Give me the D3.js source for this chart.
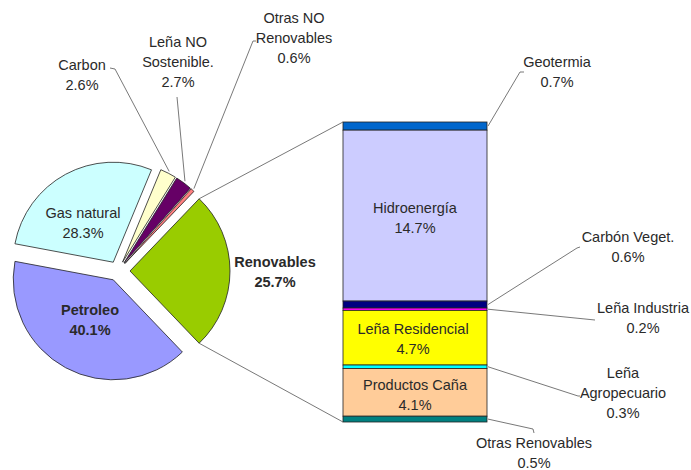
<!DOCTYPE html>
<html>
<head>
<meta charset="utf-8">
<script src="https://cdn.jsdelivr.net/npm/d3@7"></script>
<style>
  body { margin: 0; background: #fff; }
  text { font-family: "Liberation Sans", Arial, sans-serif; font-size: 14.5px; fill: #2a2a2a; }
</style>
</head>
<body>
<script>
// data: pie (first entry is the one split into the bar)
const pieLabels = ["Renovables", "Petroleo", "Gas natural", "Carbon", "Leña NO Sostenible.", "Otras NO Renovables"];
const pieValues = [25.7, 40.1, 28.3, 2.6, 2.7, 0.6];
const pieColors = ["#99cc00", "#9999ff", "#ccffff", "#ffffcc", "#660066", "#ff8080"];

// data: bar of the "Renovables" slice, top to bottom
const barLabels = ["Geotermia", "Hidroenergía", "Carbón Veget.", "Leña Industria", "Leña Residencial", "Leña Agropecuario", "Productos Caña", "Otras Renovables"];
const barValues = [0.7, 14.7, 0.6, 0.2, 4.7, 0.3, 4.1, 0.5];
const barColors = ["#0066cc", "#ccccff", "#000080", "#ff00ff", "#ffff00", "#00ffff", "#ffcc99", "#008080"];

const canvWidth = 691, canvHeight = 470;
const svg = d3.select("body").append("svg")
    .attr("width", canvWidth)
    .attr("height", canvHeight);

// pie geometry
const cx = 118, cy = 271, radius = 100, explode = 10;
const total = d3.sum(pieValues);
const start = Math.PI / 2 - Math.PI * pieValues[0] / total;
const pie = d3.pie().sort(null).startAngle(start).endAngle(start + 2 * Math.PI);
const arcs = pie(pieValues);
const arc = d3.arc().innerRadius(0).outerRadius(radius);

function offset(d, e) {
    const a = (d.startAngle + d.endAngle) / 2;
    return [e * Math.sin(a), -e * Math.cos(a)];
}
function polar(a, r, o) {
    return [cx + o[0] + r * Math.sin(a), cy + o[1] - r * Math.cos(a)];
}

const gPie = svg.append("g");
gPie.selectAll("path")
    .data(arcs)
    .enter()
    .append("path")
    .attr("d", arc)
    .attr("transform", (d, i) => {
        const o = offset(d, i === 0 ? 12 : explode);
        return "translate(" + (cx + o[0]) + "," + (cy + o[1]) + ")";
    })
    .style("fill", (d, i) => pieColors[i])
    .style("stroke", "#222")
    .style("stroke-width", 0.8);

// bar scale
const barX = 343, barW = 144;
const y = d3.scaleLinear().domain([0, d3.sum(barValues)]).range([122, 422]);
const cum = d3.cumsum(barValues);
const segs = barValues.map((v, i) => ({ v: v, y0: cum[i] - v, y1: cum[i] }));

svg.append("g").selectAll("rect")
    .data(segs)
    .enter()
    .append("rect")
    .attr("x", barX)
    .attr("y", d => y(d.y0))
    .attr("width", barW)
    .attr("height", d => y(d.y1) - y(d.y0))
    .style("fill", (d, i) => barColors[i])
    .style("stroke", "#222")
    .style("stroke-width", 0.8);

// connectors pie -> bar
const ren = arcs[0];
const oRen = offset(ren, 12);
const pTop = polar(ren.startAngle, radius, oRen);
const pBot = polar(ren.endAngle, radius, oRen);
svg.append("line").attr("x1", pTop[0]).attr("y1", pTop[1]).attr("x2", barX).attr("y2", y(0))
    .style("stroke", "#555").style("stroke-width", 0.8);
svg.append("line").attr("x1", pBot[0]).attr("y1", pBot[1]).attr("x2", barX).attr("y2", y(d3.sum(barValues)))
    .style("stroke", "#555").style("stroke-width", 0.8);

// labels
function label(x, yy, lines, bold) {
    const t = svg.append("text")
        .attr("x", x)
        .attr("y", yy)
        .style("text-anchor", "middle")
        .style("font-weight", bold ? "bold" : "normal");
    lines.forEach((s, i) => {
        t.append("tspan").attr("x", x).attr("dy", i === 0 ? 0 : 20).text(s);
    });
}
function leader(pts) {
    svg.append("path")
        .attr("d", d3.line()(pts))
        .style("fill", "none")
        .style("stroke", "#555")
        .style("stroke-width", 0.8);
}
const pct = v => v.toFixed(1) + "%";

// pie labels: position, lines, bold, leader points on the label side
const pieLayout = [
    { x: 275, y: 267, lines: ["Renovables"], bold: true },
    { x: 90, y: 315, lines: ["Petroleo"], bold: true },
    { x: 83, y: 218, lines: ["Gas natural"] },
    { x: 82, y: 70, lines: ["Carbon"], lead: [[110, 68], [115, 69]] },
    { x: 178, y: 47, lines: ["Leña NO", "Sostenible."], lead: [[177, 97]] },
    { x: 294, y: 23, lines: ["Otras NO", "Renovables"], lead: [[256, 41], [253, 41]] }
];
pieLayout.forEach((L, i) => {
    label(L.x, L.y, L.lines.concat([pct(pieValues[i])]), L.bold);
    if (L.lead) {
        const d = arcs[i];
        const a = (d.startAngle + d.endAngle) / 2;
        const p = polar(a, radius + 2, offset(d, explode));
        leader(L.lead.concat([p]));
    }
});

// bar labels
const barLayout = [
    { x: 557, y: 67, lines: ["Geotermia"], lead: [[524, 72], [520, 72]] },
    { x: 415, y: 213, lines: ["Hidroenergía"] },
    { x: 628, y: 242, lines: ["Carbón Veget."], lead: [[580, 247], [577, 248]] },
    { x: 643, y: 313, lines: ["Leña Industria"], lead: [[595, 320]] },
    { x: 413, y: 334, lines: ["Leña Residencial"] },
    { x: 623, y: 378, lines: ["Leña", "Agropecuario"], lead: [[580, 396], [578, 396]] },
    { x: 415, y: 390, lines: ["Productos Caña"] },
    { x: 534, y: 448, lines: ["Otras Renovables"], lead: [[534, 433], [533, 429]] }
];
barLayout.forEach((L, i) => {
    label(L.x, L.y, L.lines.concat([pct(barValues[i])]));
    if (L.lead) {
        const s = segs[i];
        leader(L.lead.concat([[barX + barW + 1, (y(s.y0) + y(s.y1)) / 2]]));
    }
});
</script>
</body>
</html>
